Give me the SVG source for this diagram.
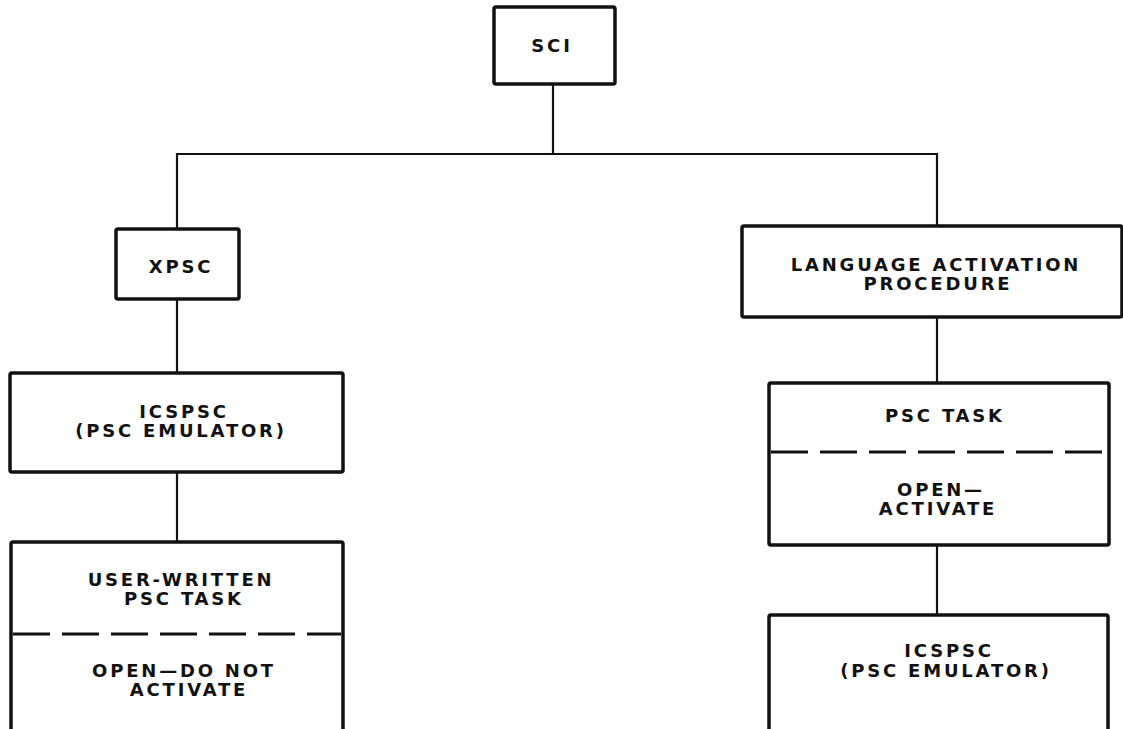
<svg xmlns="http://www.w3.org/2000/svg" width="1123" height="729" viewBox="0 0 1123 729">
<style>
.box{fill:#fff;stroke:#111;stroke-width:3.5}
.conn{fill:none;stroke:#111;stroke-width:2.2}
.dash{fill:none;stroke:#111;stroke-width:3.2;stroke-dasharray:37 12}
text{font-family:"DejaVu Sans","Liberation Sans",sans-serif;font-weight:bold;font-size:18px;letter-spacing:2.8px;fill:#111;text-anchor:middle}
</style>
<rect width="1123" height="729" fill="#fff"/>
<g id="connectors">
<line class="conn" x1="553" y1="84" x2="553" y2="154"/>
<polyline class="conn" points="177,229 177,154 937,154 937,226"/>
<line class="conn" x1="177" y1="299" x2="177" y2="373"/>
<line class="conn" x1="177" y1="472" x2="177" y2="542"/>
<line class="conn" x1="937" y1="317" x2="937" y2="383"/>
<line class="conn" x1="937" y1="545" x2="937" y2="615"/>
</g>
<g id="sci">
<rect class="box" x="494" y="7" width="121" height="77" rx="2"/>
<text x="552" y="52">SCI</text>
</g>
<g id="xpsc">
<rect class="box" x="116" y="229" width="123" height="70" rx="2"/>
<text x="181" y="273">XPSC</text>
</g>
<g id="icspsc-left">
<rect class="box" x="10" y="373" width="333" height="99" rx="2"/>
<text x="184" y="418">ICSPSC</text>
<text x="181" y="437">(PSC EMULATOR)</text>
</g>
<g id="user-task">
<rect class="box" x="11" y="542" width="332" height="200" rx="2"/>
<line class="dash" x1="13" y1="634" x2="341" y2="634"/>
<text x="181" y="586">USER-WRITTEN</text>
<text x="184" y="605">PSC TASK</text>
<text x="184" y="677">OPEN—DO NOT</text>
<text x="189" y="696">ACTIVATE</text>
</g>
<g id="lap">
<rect class="box" x="742" y="226" width="380" height="91" rx="2"/>
<text x="936" y="271">LANGUAGE ACTIVATION</text>
<text x="938" y="290">PROCEDURE</text>
</g>
<g id="psc-task">
<rect class="box" x="769" y="383" width="340" height="162" rx="2"/>
<line class="dash" x1="771" y1="452" x2="1107" y2="452"/>
<text x="945" y="422">PSC TASK</text>
<text x="941" y="496">OPEN—</text>
<text x="938" y="515">ACTIVATE</text>
</g>
<g id="icspsc-right">
<rect class="box" x="769" y="615" width="339" height="130" rx="2"/>
<text x="949" y="657">ICSPSC</text>
<text x="946" y="677">(PSC EMULATOR)</text>
</g>
</svg>
